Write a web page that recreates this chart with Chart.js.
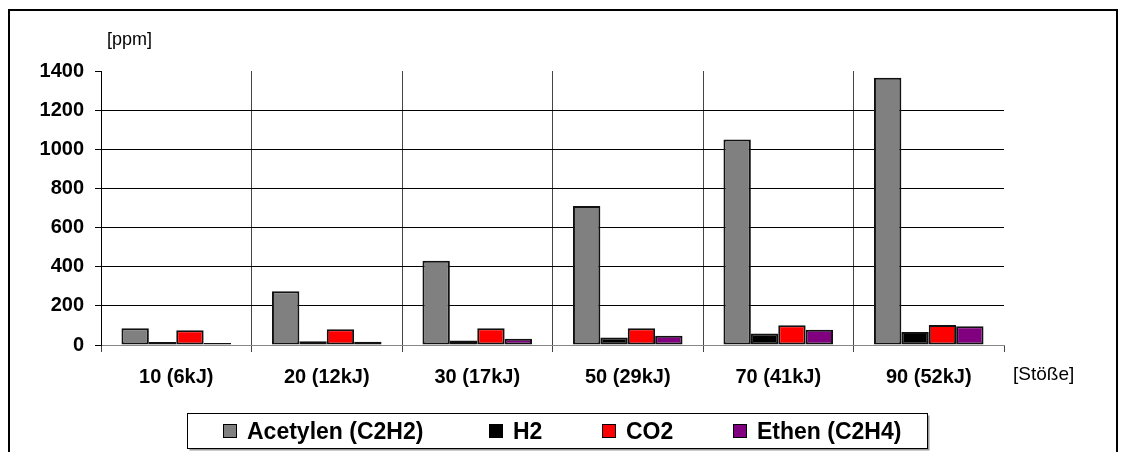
<!DOCTYPE html>
<html>
<head>
<meta charset="utf-8">
<script src="https://cdn.jsdelivr.net/npm/chart.js@4.4.1/dist/chart.umd.min.js"></script>
<style>
  html, body { margin: 0; padding: 0; background: #fff; }
  #wrap { width: 1124px; height: 452px; }
</style>
</head>
<body>
<div id="wrap"><canvas id="c" width="1124" height="452"></canvas></div>
<script>
// Impact series: number of strokes (energy) on the category axis
const categories = ['10 (6kJ)', '20 (12kJ)', '30 (17kJ)', '50 (29kJ)', '70 (41kJ)', '90 (52kJ)'];

// Gas concentrations in ppm
const acetylen = [85, 275, 430, 710, 1050, 1365];
const h2       = [15, 19, 23, 38, 59, 67];
const co2      = [76, 81, 86, 86, 101, 102];
const ethen    = [10, 17, 32, 47, 78, 96];

const seriesNames  = ['Acetylen (C2H2)', 'H2', 'CO2', 'Ethen (C2H4)'];
const seriesColors = ['#808080', '#000000', '#ff0000', '#800080'];

const yMin = 0, yMax = 1400, yStep = 200;
const yUnit = '[ppm]';
const xUnit = '[Stöße]';

const FONT = '"Liberation Sans", Arial, sans-serif';

// Outer frame, unit captions and the boxed legend
const decorations = {
  id: 'decorations',
  beforeDraw(chart) {
    const ctx = chart.ctx;
    ctx.save();
    ctx.fillStyle = '#fff';
    ctx.fillRect(0, 0, chart.width, chart.height);
    ctx.strokeStyle = '#000';
    ctx.lineWidth = 2;
    ctx.strokeRect(9, 10, 1108, 480);
    ctx.restore();
  },
  afterDraw(chart) {
    const ctx = chart.ctx;
    const area = chart.chartArea;
    ctx.save();
    ctx.fillStyle = '#000';
    ctx.textBaseline = 'alphabetic';
    ctx.textAlign = 'left';
    ctx.font = '18px ' + FONT;
    ctx.fillText(yUnit, area.left + 6, 44.5);
    ctx.font = '19px ' + FONT;
    ctx.fillText(xUnit, area.right + 9, 380);

    // legend frame with a soft drop shadow
    const bx = 187.5, by = 413.5, bw = 740, bh = 35;
    ctx.fillStyle = '#9a9a9a';
    ctx.fillRect(bx + 2, by + 2, bw, bh);
    ctx.fillStyle = '#fff';
    ctx.fillRect(bx, by, bw, bh);
    ctx.strokeStyle = '#000';
    ctx.lineWidth = 1;
    ctx.strokeRect(bx, by, bw, bh);

    const itemX = [223, 489, 602, 733];
    ctx.font = 'bold 23px ' + FONT;
    chart.data.datasets.forEach((ds, i) => {
      const x = itemX[i];
      ctx.fillStyle = ds.backgroundColor;
      ctx.fillRect(x + 0.5, 424.5, 13, 13);
      ctx.strokeStyle = '#000';
      ctx.lineWidth = 1;
      ctx.strokeRect(x + 0.5, 424.5, 13, 13);
      ctx.fillStyle = '#000';
      ctx.fillText(ds.label, x + 24, 439);
    });
    ctx.restore();
  }
};

const series = [acetylen, h2, co2, ethen];

new Chart(document.getElementById('c'), {
  type: 'bar',
  data: {
    labels: categories,
    datasets: series.map((values, i) => ({
      label: seriesNames[i],
      data: values,
      backgroundColor: seriesColors[i],
      borderColor: '#111',
      borderWidth: 2,
      borderSkipped: false,
      categoryPercentage: 0.728,
      barPercentage: 1
    }))
  },
  options: {
    responsive: false,
    animation: false,
    layout: { padding: { top: 71, right: 120, bottom: 0, left: 0 } },
    plugins: {
      legend: { display: false },
      tooltip: { enabled: false }
    },
    scales: {
      x: {
        offset: true,
        grid: {
          offset: true,
          color: c => c.type === 'tick' ? '#444' : 'rgba(0,0,0,0)',
          tickColor: '#444',
          tickLength: 7,
          lineWidth: 1
        },
        border: { color: '#888', width: 1 },
        ticks: {
          color: '#000',
          font: { family: FONT, size: 20, weight: 'bold' },
          padding: 13,
          maxRotation: 0
        },
        afterFit(scale) { scale.height = 107; }
      },
      y: {
        min: yMin,
        max: yMax,
        grid: {
          color: c => c.tick.value === yMax ? 'rgba(0,0,0,0)' : (c.tick.value === 0 ? '#888' : '#000'),
          tickColor: '#000',
          tickLength: 6,
          lineWidth: 1
        },
        border: { color: '#000', width: 1 },
        ticks: {
          stepSize: yStep,
          color: '#000',
          font: { family: FONT, size: 20, weight: 'bold' },
          padding: 11,
          callback: v => String(v)
        },
        afterFit(scale) { scale.width = 101; }
      }
    }
  },
  plugins: [decorations]
});
</script>
</body>
</html>
